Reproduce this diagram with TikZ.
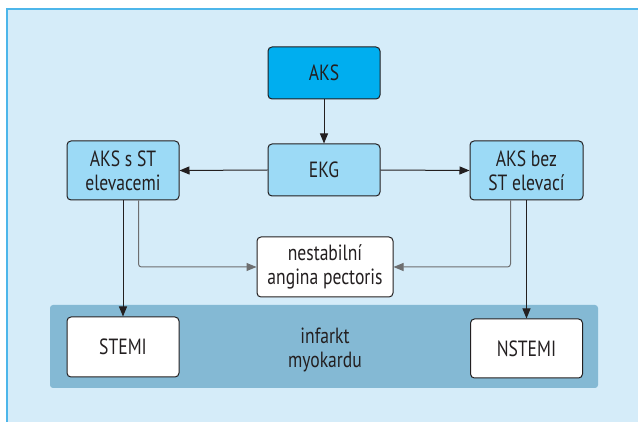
\documentclass[tikz,border=0pt]{standalone}
\usepackage{fontspec}
\setmainfont{PT Sans}[FakeStretch=0.8]
\usetikzlibrary{arrows.meta,calc}
\definecolor{panel}{HTML}{D5ECF9}
\definecolor{panelline}{HTML}{4DB6EA}
\definecolor{aksfill}{HTML}{00AEEF}
\definecolor{midfill}{HTML}{9CDAF6}
\definecolor{bandfill}{HTML}{84B9D4}
\definecolor{grayline}{HTML}{6D6E70}
\definecolor{ink}{HTML}{231F20}
\tikzset{
  txt/.style={text=ink, align=center, font=\fontsize{22}{24}\selectfont},
  box/.style={txt, draw=ink, line width=1pt, rounded corners=4pt, inner sep=0pt},
  blk/.style={draw=ink, line width=1pt, -{Triangle[length=10pt,width=8pt]}},
  gry/.style={draw=grayline, line width=1pt, rounded corners=3pt, -{Triangle[length=10pt,width=8pt]}},
}
\begin{document}
\begin{tikzpicture}[x=1pt,y=-1pt]
\useasboundingbox (0,0) rectangle (638,422);
\fill[white] (0,0) rectangle (638,422);
\fill[panel] (7,9) rectangle (638,422);
\draw[panelline, line width=1.5pt] (7,422) -- (7,9) -- (638,9);
\node[fill=bandfill, rounded corners=3pt, minimum width=548pt, minimum height=83pt, inner sep=0pt] (band) at (324,346.5) {};
\node[box, fill=aksfill, minimum width=112pt, minimum height=52pt] (aks) at (324,73) {AKS};
\node[box, fill=midfill, minimum width=112pt, minimum height=52pt] (ekg) at (324,170) {EKG};
\node[box, fill=midfill, minimum width=112pt, minimum height=59pt] (akss) at (123,170.5) {AKS s ST\\elevacemi};
\node[box, fill=midfill, minimum width=113pt, minimum height=59pt] (aksbez) at (526.5,170.5) {AKS bez\\ST elevací};
\node[box, fill=white, minimum width=136pt, minimum height=60pt] (nest) at (325,267) {nestabilní\\angina pectoris};
\node[box, fill=white, minimum width=112pt, minimum height=60pt] (stemi) at (123,347) {STEMI};
\node[box, fill=white, minimum width=112pt, minimum height=59pt] (nstemi) at (526.5,348.5) {NSTEMI};
\node[txt] (inf) at (325,350) {infarkt\\myokardu};
\draw[blk] (aks.south) -- (ekg.north);
\draw[blk] (ekg.west) -- (akss.east);
\draw[blk] (ekg.east) -- (aksbez.west);
\draw[blk] (akss.south) -- (stemi.north);
\draw[blk] (aksbez.south) -- (nstemi.north);
\coordinate (gl) at ($(akss.south west)+(72,0)$);
\coordinate (gr) at ($(aksbez.south west)+(41,0)$);
\draw[gry] (gl) |- (nest.west);
\draw[gry] (gr) |- (nest.east);
\end{tikzpicture}
\end{document}
